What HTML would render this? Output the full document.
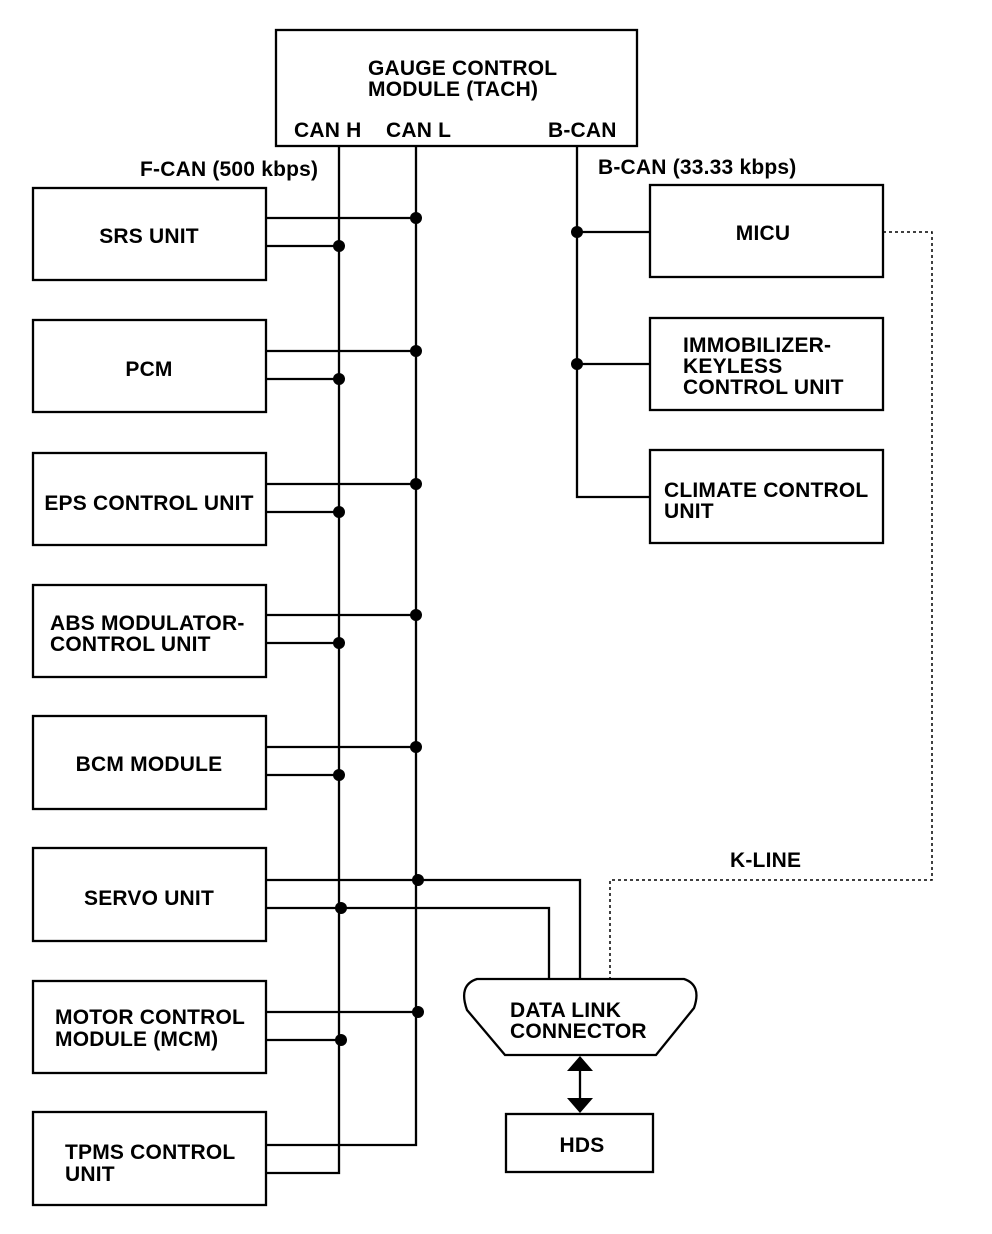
<!DOCTYPE html>
<html><head><style>body{margin:0;background:#fff}svg{display:block}text{font-family:"Liberation Sans",Arial,sans-serif;font-weight:bold;font-size:21px;letter-spacing:0.2px;fill:#000}</style></head><body>
<svg width="992" height="1234" viewBox="0 0 992 1234" xmlns="http://www.w3.org/2000/svg">
<g fill="none" stroke="#000" stroke-width="2.3">
<rect x="276" y="30" width="361" height="116"/>
<rect x="33" y="188" width="233" height="92"/>
<rect x="33" y="320" width="233" height="92"/>
<rect x="33" y="453" width="233" height="92"/>
<rect x="33" y="585" width="233" height="92"/>
<rect x="33" y="716" width="233" height="93"/>
<rect x="33" y="848" width="233" height="93"/>
<rect x="33" y="981" width="233" height="92"/>
<rect x="33" y="1112" width="233" height="93"/>
<rect x="650" y="185" width="233" height="92"/>
<rect x="650" y="318" width="233" height="92"/>
<rect x="650" y="450" width="233" height="93"/>
<rect x="506" y="1114" width="147" height="58"/>
<path d="M477 979 H684 Q702 985 694 1008 L656 1055 H505 L467 1010 Q458 985 477 979 Z"/>
<path d="M339 146 V1173 H266"/>
<path d="M416 146 V1145 H266"/>
<path d="M577 146 V497 H650"/>
<path d="M266 218 H416 M266 246 H339 M266 351 H416 M266 379 H339 M266 484 H416 M266 512 H339 M266 615 H416 M266 643 H339 M266 747 H416 M266 775 H339 M266 1012 H416 M266 1040 H339"/>
<path d="M577 232 H650 M577 364 H650"/>
<path d="M266 880 H580 V979 M266 908 H549 V979"/>
<path d="M580 1070 V1100"/>
<path d="M883 232 H932 V880 H610 V979" stroke-dasharray="3,3" stroke-width="1.5"/>
</g>
<g fill="#000">
<circle cx="416" cy="218" r="6"/><circle cx="339" cy="246" r="6"/>
<circle cx="416" cy="351" r="6"/><circle cx="339" cy="379" r="6"/>
<circle cx="416" cy="484" r="6"/><circle cx="339" cy="512" r="6"/>
<circle cx="416" cy="615" r="6"/><circle cx="339" cy="643" r="6"/>
<circle cx="416" cy="747" r="6"/><circle cx="339" cy="775" r="6"/>
<circle cx="418" cy="880" r="6"/><circle cx="341" cy="908" r="6"/>
<circle cx="418" cy="1012" r="6"/><circle cx="341" cy="1040" r="6"/>
<circle cx="577" cy="232" r="6"/><circle cx="577" cy="364" r="6"/>
<polygon points="580,1056 567,1071 593,1071"/>
<polygon points="580,1113 567,1098 593,1098"/>
</g>
<text x="368" y="75">GAUGE CONTROL</text>
<text x="368" y="96">MODULE (TACH)</text>
<text x="294" y="137">CAN H</text>
<text x="386" y="137">CAN L</text>
<text x="548" y="137">B-CAN</text>
<text x="140" y="176">F-CAN (500 kbps)</text>
<text x="598" y="174">B-CAN (33.33 kbps)</text>
<text x="149" y="243" text-anchor="middle">SRS UNIT</text>
<text x="149" y="376" text-anchor="middle">PCM</text>
<text x="149" y="510" text-anchor="middle">EPS CONTROL UNIT</text>
<text x="50" y="630">ABS MODULATOR-</text>
<text x="50" y="651">CONTROL UNIT</text>
<text x="149" y="771" text-anchor="middle">BCM MODULE</text>
<text x="149" y="905" text-anchor="middle">SERVO UNIT</text>
<text x="55" y="1024">MOTOR CONTROL</text>
<text x="55" y="1046">MODULE (MCM)</text>
<text x="65" y="1159">TPMS CONTROL</text>
<text x="65" y="1181">UNIT</text>
<text x="763" y="240" text-anchor="middle">MICU</text>
<text x="683" y="352">IMMOBILIZER-</text>
<text x="683" y="373">KEYLESS</text>
<text x="683" y="394">CONTROL UNIT</text>
<text x="664" y="497">CLIMATE CONTROL</text>
<text x="664" y="518">UNIT</text>
<text x="730" y="867">K-LINE</text>
<text x="510" y="1017">DATA LINK</text>
<text x="510" y="1038">CONNECTOR</text>
<text x="582" y="1152" text-anchor="middle">HDS</text>
</svg>
</body></html>
